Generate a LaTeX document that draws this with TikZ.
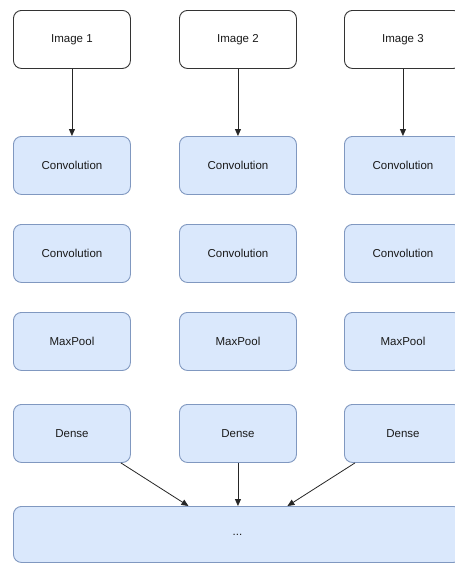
\documentclass[tikz,border=0pt]{standalone}
\usepackage{fontspec}
\setmainfont{Liberation Sans}
\usetikzlibrary{arrows.meta}
\definecolor{layerfill}{HTML}{DAE8FC}
\definecolor{layerline}{HTML}{8098C0}
\definecolor{textcol}{HTML}{1A1A1A}
\tikzset{
  x=1pt, y=-1pt,
  box/.style={rounded corners=8pt, line width=0.9pt, minimum width=117pt, minimum height=58pt,
              inner sep=0pt, font=\fontsize{11.5}{13}\selectfont, text=textcol, anchor=north west},
  imgbox/.style={box, draw=black!80, fill=white},
  layer/.style={box, draw=layerline, fill=layerfill},
  link/.style={line width=0.8pt, draw=black!85, -{Triangle[length=7pt,width=6pt]}},
}
\begin{document}
\begin{tikzpicture}
\useasboundingbox (0,0) rectangle (455,563);
\clip (0,0) rectangle (455,563);
\fill[white] (0,0) rectangle (455,563);

% three parallel input branches
\foreach \c/\x in {1/13, 2/179, 3/344} {
  \node[imgbox] (img\c) at (\x,10) {Image \c};
  \node[layer] (convA\c) at (\x,136) {Convolution};
  \node[layer] (convB\c) at (\x,224) {Convolution};
  \node[layer] (pool\c) at (\x,312) {MaxPool};
  \node[layer] (dense\c) at (\x,404) {Dense};
  \draw[link] (img\c) -- (convA\c);
}

% merged stage
\node[layer, minimum width=448pt, minimum height=56pt] (merge) at (13,506) {...};

% the branches feed into the merged stage
\coordinate (out1) at ([xshift=-10pt]dense1.south east);
\coordinate (out3) at ([xshift=11pt]dense3.south west);
\coordinate (in1) at ([xshift=-49pt]merge.north);
\coordinate (in3) at ([xshift=50pt]merge.north);
\draw[link] (out1) -- (in1);
\draw[link] (dense2) -- (merge.north -| dense2);
\draw[link] (out3) -- (in3);
\end{tikzpicture}
\end{document}
